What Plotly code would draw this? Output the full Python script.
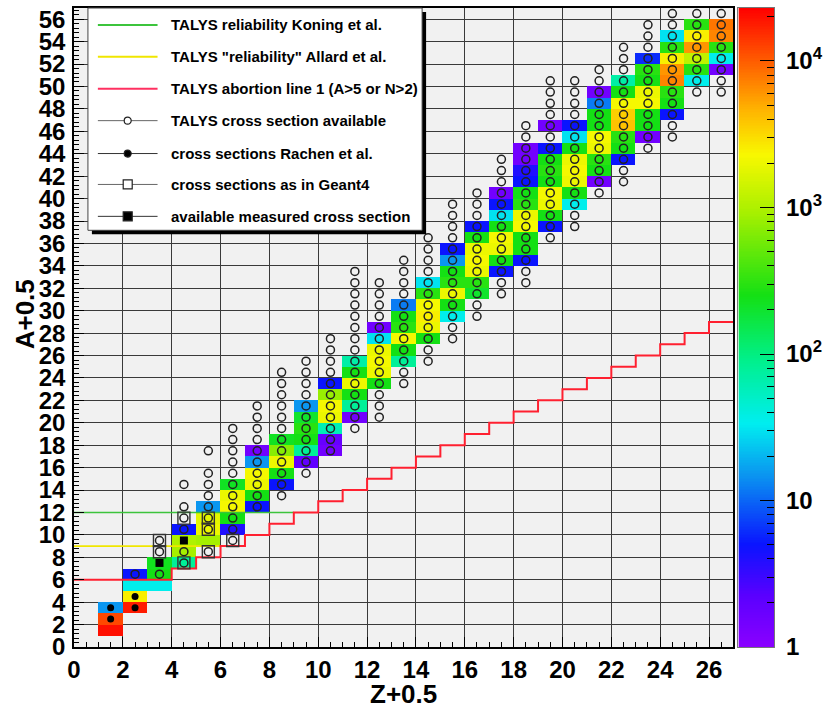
import numpy as np
import plotly.graph_objects as go

FONT = "Liberation Sans, Arial, Helvetica, sans-serif"

# ---------------------------------------------------------------- data
# Colour-coded cross sections: for every Z the first mass number of the run
# and the values for consecutive A (None = no entry in that bin)
band_Z = [1, 2, 3, 4, 5, 6, 7, 8, 9, 10, 11, 12, 13,
          14, 15, 16, 17, 18, 19, 20, 21, 22, 23, 24, 25, 26]
band_A0 = [1, 3, 5, 7, 9, 10, 12, 14, 16, 17, 20, 23, 25,
           27, 29, 31, 33, 34, 37, 39, 41, 43, 45, 47, 50, 51]
band_vals = [
    [20000, 12000, 15],
    [18000, 2500, 35, 5],
    [35, 250, 230],
    [80, 900, 1000, 5],
    [900, 2000, 1800, 15],
    [4, 250, 2200, 2000, 220],
    [5, 250, 2000, 2200, 15, 1.5],
    [5, 250, 2000, 700, 220],
    [2, 80, 250, 300, 200, 15],
    [1.5, 1.8, 60, 2000, 2200, 800, 5],
    [1.5, 80, 250, 2000, 250, 70],
    [250, 2000, 2200, 2000, 30, 1.5],
    [80, 250, 2200, 300, 250, 12],
    [250, 2000, 2500, 2200, 300, 30],
    [35, 250, 2000, 300, 250, 15, 5],
    [200, 300, 2000, 2200, 2000, 250, 5],
    [5, 250, 2000, 2200, 250, 30, 5, 1.5],
    [5, 250, 250, 2200, 2000, 300, 250, 5, 4, 1.5, 1.5],
    [5, 250, 2000, 2200, 250, 300, 250, 5, None, 1.5],
    [35, 250, 2000, 2200, 2000, 250, 30, 5],
    [1.5, 250, 300, 2000, 2200, 250, 250, 12, 1.5],
    [5, 250, 300, 4000, 3500, 2200, 250, 70],
    [1.5, 250, 250, 2200, 2000, 250, 300, 6],
    [5, 250, 300, 7000, 6000, 2500, 300, 30],
    [35, 300, 1200, 6000, 2500, 300],
    [1.5, 35, 300, 7000, 8000],
]

# TALYS cross section available (open circles), mass numbers per Z
talys_Z = [2, 3, 4, 5, 6, 7, 8, 9, 10, 11, 12, 13,
           14, 15, 16, 17, 18, 19, 20, 21, 22, 23, 24, 25, 26]
talys_A = [
    [6],
    [6, 8, 9],
    [7, 8, 10, 11, 12, 14],
    [8, 10, 11, 12, 13, 14, 15, 17],
    [9, 10, 11, 12, 13, 14, 15, 16, 17, 18, 19],
    [12, 13, 14, 15, 16, 17, 18, 19, 20, 21],
    [13, 14, 15, 16, 17, 18, 19, 20, 21, 22, 23, 24],
    [15, 16, 17, 18, 19, 20, 21, 22, 23, 24, 25],
    [17, 18, 19, 20, 21, 22, 23, 24, 25, 26, 27],
    [19, 20, 21, 22, 23, 24, 25, 26, 27, 28, 29, 30, 31, 32, 33],
    [20, 21, 22, 23, 24, 25, 26, 27, 28, 29, 30, 31, 32],
    [23, 24, 25, 26, 27, 28, 29, 30, 31, 32, 33, 34],
    [25, 26, 27, 28, 29, 30, 31, 32, 33, 34, 35, 36],
    [27, 28, 29, 30, 31, 32, 33, 34, 35, 36, 37, 38, 39],
    [29, 30, 31, 32, 33, 34, 35, 36, 37, 38, 39, 40],
    [31, 32, 33, 34, 35, 36, 37, 38, 39, 40, 41, 42, 43],
    [32, 33, 34, 35, 36, 37, 38, 39, 40, 41, 42, 43, 44, 45, 46],
    [36, 37, 38, 39, 40, 41, 42, 43, 44, 45, 46, 47, 48, 49, 50],
    [37, 38, 39, 40, 41, 42, 43, 44, 45, 46, 47, 48, 49, 50],
    [40, 41, 42, 43, 44, 45, 46, 47, 48, 49, 50, 51],
    [41, 42, 43, 44, 45, 46, 47, 48, 49, 50, 51, 52, 53],
    [44, 45, 46, 47, 48, 49, 50, 51, 52, 53, 54, 55],
    [45, 46, 47, 48, 49, 50, 51, 52, 53, 54, 55, 56],
    [49, 50, 51, 52, 53, 54, 55, 56],
    [49, 50, 51, 52, 53, 54, 55, 56],
]

# cross sections Rachen et al. (filled circles)
rachen_Z = [1, 1, 2, 2]
rachen_A = [2, 3, 3, 4]
# cross sections as in Geant4 (open squares)
geant4_Z = [3, 3, 4, 4, 5, 5, 5, 6]
geant4_A = [8, 9, 7, 11, 8, 10, 11, 9]
# available measured cross section (filled squares)
measured_Z = [3, 4]
measured_A = [7, 9]

# TALYS abortion line 1: lowest mass number per Z bin (A>5 or N>2)
abort_Z = [0, 1, 2, 3, 4, 5, 6, 7, 8, 9, 10, 11, 12, 13,
           14, 15, 16, 17, 18, 19, 20, 21, 22, 23, 24, 25, 26]
abort_A = [6, 6, 6, 6, 7, 8, 9, 10, 11, 12, 13, 14, 15, 16,
           17, 18, 19, 20, 21, 22, 23, 24, 25, 26, 27, 28, 29]

koning_A = 12   # TALYS reliability, Koning et al.
allard_A = 9    # TALYS "reliability", Allard et al.

cbar_ticks = [1, 10, 100, 1000, 10000]
cbar_labels = ["1", "10", "10<sup>2</sup>", "10<sup>3</sup>", "10<sup>4</sup>"]
z_max = 2.3e4

N_Z, N_A = 27, 57

# ------------------------------------------------------------- helpers
z_top = np.log10(z_max)
palette = [
    [0.00, "#8a00ff"], [0.08, "#5a00ff"], [0.16, "#0a14ff"],
    [0.27, "#0a96f0"], [0.35, "#00eef0"], [0.45, "#00f08a"],
    [0.55, "#14e014"], [0.68, "#a8f000"], [0.77, "#f8f800"],
    [0.84, "#ffb400"], [0.91, "#ff6400"], [1.00, "#ff0000"],
]

grid = np.full((N_A, N_Z), np.nan)
for z, a0, vals in zip(band_Z, band_A0, band_vals):
    for k, v in enumerate(vals):
        if v is not None:
            grid[a0 + k, z] = np.log10(v)

tz, ta = [], []
for z, alist in zip(talys_Z, talys_A):
    for a in alist:
        tz.append(z + 0.5)
        ta.append(a + 0.5)


def centred(vals):
    return [v + 0.5 for v in vals]


def first_reach(level):
    for z, a in zip(abort_Z, abort_A):
        if a >= level:
            return z
    return N_Z


fig = go.Figure()

fig.add_trace(go.Heatmap(
    z=grid, x0=0.5, dx=1, y0=0.5, dy=1,
    zmin=0, zmax=z_top, colorscale=palette, showscale=False,
    hoverinfo="skip", xaxis="x", yaxis="y",
))

# reliability lines and the abortion step line
fig.add_trace(go.Scatter(
    x=[0, first_reach(koning_A)], y=[koning_A, koning_A], mode="lines",
    line=dict(color="#3cc43c", width=1.6), hoverinfo="skip"))
fig.add_trace(go.Scatter(
    x=[0, first_reach(allard_A)], y=[allard_A, allard_A], mode="lines",
    line=dict(color="#f0e600", width=1.8), hoverinfo="skip"))
fig.add_trace(go.Scatter(
    x=abort_Z + [N_Z], y=abort_A + [abort_A[-1]], mode="lines",
    line=dict(color="#ff2030", width=2, shape="hv"), hoverinfo="skip"))

# markers
fig.add_trace(go.Scatter(
    x=tz, y=ta, mode="markers",
    marker=dict(symbol="circle-open", size=8, color="#222222",
                line=dict(width=1.5)), hoverinfo="skip"))
fig.add_trace(go.Scatter(
    x=centred(geant4_Z), y=centred(geant4_A), mode="markers",
    marker=dict(symbol="square-open", size=12, color="#333333",
                line=dict(width=1.4)), hoverinfo="skip"))
fig.add_trace(go.Scatter(
    x=centred(rachen_Z), y=centred(rachen_A), mode="markers",
    marker=dict(symbol="circle", size=7, color="#000000"), hoverinfo="skip"))
fig.add_trace(go.Scatter(
    x=centred(measured_Z), y=centred(measured_A), mode="markers",
    marker=dict(symbol="square", size=8, color="#000000"), hoverinfo="skip"))

# palette bar on its own axes
levels = np.linspace(0, z_top, 401)
step = levels[1] - levels[0]
fig.add_trace(go.Heatmap(
    z=[[v] for v in levels[:-1] + step / 2], x0=0.5, dx=1,
    y0=step / 2, dy=step, zmin=0, zmax=z_top, colorscale=palette,
    showscale=False, hoverinfo="skip", xaxis="x2", yaxis="y2"))

minor_vals = []
for d in range(0, 5):
    for m in range(2, 10):
        v = m * 10 ** d
        if v < z_max:
            minor_vals.append(np.log10(v))

# ------------------------------------------------------------- layout
W, H = 829, 711
ML, MR, MT, MB = 74, 10, 6, 64
PW, PH = W - ML - MR, H - MT - MB


def px(xp):
    return (xp - ML) / PW


def py(yp):
    return (H - MB - yp) / PH


bold = dict(family=FONT, color="black", weight="bold")

axis_common = dict(
    ticks="inside", tickcolor="black", tickwidth=1, ticklen=10,
    showgrid=True, gridcolor="#3a3a3a", gridwidth=1,
    showline=True, mirror=True, linecolor="black", linewidth=1.5,
    zeroline=False, tickfont=dict(size=24, **bold), tick0=0, dtick=2,
)

fig.update_layout(
    width=W, height=H,
    margin=dict(l=ML, r=MR, t=MT, b=MB),
    paper_bgcolor="white", plot_bgcolor="rgba(0,0,0,0)",
    showlegend=False,
    xaxis=dict(domain=[0, px(737)], range=[0, N_Z], anchor="y",
               minor=dict(ticks="inside", ticklen=5, dtick=0.5,
                          tickcolor="black", showgrid=False),
               **axis_common),
    yaxis=dict(domain=[0, 1], range=[0, N_A], anchor="x",
               ticklabelstandoff=2,
               minor=dict(ticks="inside", ticklen=5, dtick=0.4,
                          tickcolor="black", showgrid=False),
               **axis_common),
    xaxis2=dict(domain=[px(742), px(778)], range=[0, 1], anchor="y2",
                showticklabels=False, ticks="", showgrid=False,
                zeroline=False, showline=True, mirror=True,
                linecolor="#777777", linewidth=1),
    yaxis2=dict(domain=[0, 1], range=[0, z_top], anchor="x2", side="right",
                tickvals=list(np.log10(cbar_ticks)), ticktext=cbar_labels,
                ticks="inside", ticklen=14, tickcolor="black",
                minor=dict(tickvals=minor_vals, ticks="inside", ticklen=7,
                           tickcolor="black", showgrid=False),
                showgrid=False, zeroline=False, showline=True, mirror=True,
                linecolor="#777777", linewidth=1, ticklabelstandoff=6,
                tickfont=dict(size=24, **bold)),
)

# plot background below the grid
fig.add_shape(type="rect", xref="x", yref="y", x0=0, x1=N_Z, y0=0, y1=N_A,
              fillcolor="#f1f1f1", line=dict(width=0), layer="below")

# axis titles
fig.add_annotation(text="Z+0.5", xref="paper", yref="paper",
                   x=px(405), y=py(694), xanchor="center", yanchor="middle",
                   showarrow=False, font=dict(size=26, **bold))
fig.add_annotation(text="A+0.5", xref="paper", yref="paper",
                   x=px(25), y=py(313), xanchor="center", yanchor="middle",
                   showarrow=False, textangle=-90,
                   font=dict(size=26, **bold))

# legend box with shadow
fig.add_shape(type="rect", xref="paper", yref="paper",
              x0=px(92), x1=px(428), y0=py(233), y1=py(10),
              fillcolor="black", line=dict(width=0))
fig.add_shape(type="rect", xref="paper", yref="paper",
              x0=px(88), x1=px(424), y0=py(229), y1=py(6),
              fillcolor="white", line=dict(color="#444444", width=1))

legend_rows = [23, 55, 87, 119, 152, 183, 215]
legend_text = [
    "TALYS reliability Koning et al.",
    "TALYS \"reliability\" Allard et al.",
    "TALYS abortion line 1 (A>5 or N>2)",
    "TALYS cross section available",
    "cross sections Rachen et al.",
    "cross sections as in Geant4",
    "available measured cross section",
]
legend_line = [("#3cc43c", 2), ("#f0e600", 2), ("#ff3060", 2),
               ("#666666", 1), ("#333333", 1), ("#666666", 1), ("#333333", 1)]
legend_marker = [None, None, None, "circle-open", "circle", "square-open",
                 "square"]

for row, txt, (lc, lw), mk in zip(legend_rows, legend_text, legend_line,
                                  legend_marker):
    yy = py(row)
    fig.add_shape(type="line", xref="paper", yref="paper",
                  x0=px(98), x1=px(158), y0=yy, y1=yy,
                  line=dict(color=lc, width=lw))
    if mk is not None:
        half = 3.5 if "circle" in mk else 4.5
        filled = "open" not in mk
        fig.add_shape(type="circle" if "circle" in mk else "rect",
                      xref="paper", yref="paper",
                      xsizemode="pixel", ysizemode="pixel",
                      xanchor=px(128), yanchor=yy,
                      x0=-half, x1=half, y0=-half, y1=half,
                      fillcolor="black" if filled else "white",
                      line=dict(color="#222222", width=1.2))
    fig.add_annotation(text=txt, xref="paper", yref="paper",
                       x=px(170), y=yy, xanchor="left", yanchor="middle",
                       showarrow=False, font=dict(size=15, **bold))

fig.write_html("out.html")
